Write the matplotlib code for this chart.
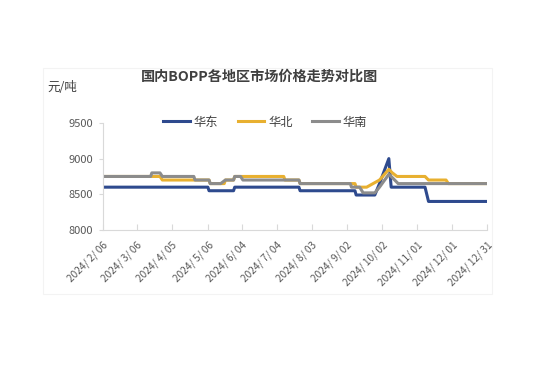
import matplotlib
matplotlib.use('Agg')
import matplotlib.pyplot as plt
import pandas as pd

plt.rcParams['font.family'] = ['Noto Sans CJK SC', 'DejaVu Sans']

# 华东
east_dates = ['2024-02-06', '2024-05-06', '2024-05-07', '2024-05-28', '2024-05-29',
              '2024-07-23', '2024-07-24', '2024-09-09', '2024-09-10', '2024-09-26',
              '2024-09-30', '2024-10-08', '2024-10-10', '2024-11-08', '2024-11-11',
              '2024-12-31']
east_vals = [8600, 8600, 8550, 8550, 8600,
             8600, 8550, 8550, 8490, 8490,
             8650, 9000, 8600, 8600, 8400,
             8400]

# 华北
north_dates = ['2024-02-06', '2024-03-26', '2024-03-28', '2024-05-07', '2024-05-08',
               '2024-05-20', '2024-05-21', '2024-05-28', '2024-05-29', '2024-07-10',
               '2024-07-11', '2024-07-23', '2024-07-24', '2024-09-09', '2024-09-10',
               '2024-09-19', '2024-09-30', '2024-10-08', '2024-10-11', '2024-10-15',
               '2024-11-08', '2024-11-11', '2024-11-26', '2024-11-28', '2024-12-31']
north_vals = [8750, 8750, 8700, 8700, 8650,
              8650, 8700, 8700, 8750, 8750,
              8700, 8700, 8650, 8650, 8600,
              8600, 8700, 8850, 8800, 8750,
              8750, 8700, 8700, 8650, 8650]

# 华南
south_dates = ['2024-02-06', '2024-03-18', '2024-03-19', '2024-03-26', '2024-03-28',
               '2024-04-24', '2024-04-25', '2024-05-07', '2024-05-08', '2024-05-17',
               '2024-05-21', '2024-05-28', '2024-05-29', '2024-06-03', '2024-06-05',
               '2024-07-23', '2024-07-24', '2024-09-05', '2024-09-06', '2024-09-13',
               '2024-09-16', '2024-09-26', '2024-09-30', '2024-10-08', '2024-10-10',
               '2024-10-16', '2024-12-31']
south_vals = [8750, 8750, 8800, 8800, 8750,
              8750, 8700, 8700, 8650, 8650,
              8700, 8700, 8750, 8750, 8700,
              8700, 8650, 8650, 8600, 8600,
              8520, 8520, 8600, 8780, 8750,
              8650, 8650]

tick_dates = ['2024-02-06', '2024-03-06', '2024-04-05', '2024-05-06', '2024-06-04',
              '2024-07-04', '2024-08-03', '2024-09-02', '2024-10-02', '2024-11-01',
              '2024-12-01', '2024-12-31']
tick_labels = ['2024/ 2/ 06', '2024/ 3/ 06', '2024/ 4/ 05', '2024/ 5/ 06', '2024/ 6/ 04',
               '2024/ 7/ 04', '2024/ 8/ 03', '2024/ 9/ 02', '2024/ 10/ 02', '2024/ 11/ 01',
               '2024/ 12/ 01', '2024/ 12/ 31']
y_ticks = [8000, 8500, 9000, 9500]

fig = plt.figure(figsize=(5.41, 3.68), dpi=100)
ax = fig.add_axes([0.190, 0.375, 0.710, 0.291])

ax.plot(pd.to_datetime(east_dates), east_vals, color='#2E4A8E', lw=2.2, label='华东')
ax.plot(pd.to_datetime(north_dates), north_vals, color='#E8B030', lw=2.2, label='华北')
ax.plot(pd.to_datetime(south_dates), south_vals, color='#8C8C8C', lw=2.2, label='华南')

ax.set_xlim(pd.Timestamp('2024-02-06'), pd.Timestamp('2024-12-31'))
ax.set_ylim(8000, 9500)
ax.set_yticks(y_ticks)
ax.set_xticks(pd.to_datetime(tick_dates))
ax.set_xticklabels(tick_labels, rotation=45, ha='right', rotation_mode='anchor')

for s in ['top', 'right']:
    ax.spines[s].set_visible(False)
ax.spines['left'].set_color('#D9D9D9')
ax.spines['bottom'].set_color('#D9D9D9')
ax.tick_params(axis='x', direction='in', length=4, color='#D9D9D9',
               labelsize=7.3, labelcolor='#595959', pad=7)
ax.tick_params(axis='y', direction='out', length=3, color='#D9D9D9',
               labelsize=8, labelcolor='#595959', pad=4)

fig.text(0.48, 0.79, '国内BOPP各地区市场价格走势对比图', ha='center', va='center',
         fontsize=10.2, fontweight='bold', color='#404040')
fig.text(0.088, 0.761, '元/吨', ha='left', va='center', fontsize=9, color='#404040')

fig.legend(loc='center', bbox_to_anchor=(0.49, 0.668), ncol=3, frameon=False,
           fontsize=8.8, handlelength=2.2, columnspacing=1.6, handletextpad=0.3,
           labelcolor='#404040')

fig.patches.append(plt.Rectangle((0.08, 0.20), 0.83, 0.615, transform=fig.transFigure,
                                 fill=False, edgecolor='#F3F3F3', lw=0.8))

plt.savefig('out.png', dpi=100)
